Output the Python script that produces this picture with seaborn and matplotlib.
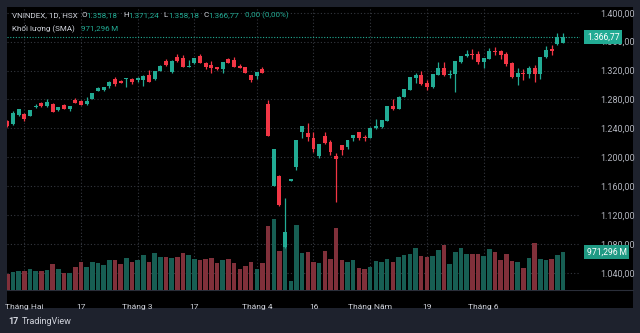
import numpy as np
import pandas as pd
import matplotlib
matplotlib.use("Agg")
import matplotlib.pyplot as plt
import matplotlib.transforms as mtransforms
from matplotlib.patches import Rectangle
import seaborn as sns

# ---------------- data ----------------
bar_idx = list(range(-3, 96))

opens = [
    1250.0, 1245.5, 1258.4,
    1259.8, 1257.0, 1269.0, 1275.0, 1271.3, 1273.1, 1265.3, 1272.2, 1267.2, 1278.7,
    1277.8, 1273.1, 1280.5, 1292.1, 1293.0, 1298.1, 1308.2, 1305.9, 1307.7, 1308.2,
    1306.4, 1306.8, 1313.7, 1307.8, 1319.7, 1332.7, 1318.3, 1338.2, 1336.8, 1324.8,
    1329.9, 1340.5, 1330.8, 1327.6, 1324.8, 1322.0, 1336.3, 1334.0, 1326.2, 1324.4,
    1313.7, 1312.4, 1322.5, 1273.6, 1160.1, 1174.0, 1075.3, 1167.0, 1185.9, 1234.9,
    1233.5, 1226.5, 1202.1, 1229.3, 1221.0, 1202.1, 1216.4, 1214.1, 1227.0, 1234.4,
    1228.4, 1227.0, 1240.0, 1241.4, 1250.6, 1270.9, 1267.2, 1283.8, 1293.0, 1309.2,
    1313.3, 1302.2, 1296.7, 1314.2, 1323.5, 1314.2, 1314.7, 1331.8, 1339.6, 1343.3,
    1342.8, 1332.2, 1335.9, 1347.5, 1346.5, 1342.8, 1330.8, 1310.6, 1317.0, 1315.2,
    1323.5, 1315.2, 1338.2, 1349.3, 1356.7, 1358.18]

highs = [
    1251.0, 1264.0, 1267.0,
    1260.5, 1265.8, 1273.1, 1276.8, 1280.1, 1274.5, 1269.5, 1273.1, 1271.2, 1281.4,
    1278.7, 1283.8, 1289.3, 1296.7, 1297.6, 1305.4, 1311.0, 1306.8, 1309.6, 1310.0,
    1310.6, 1313.3, 1320.2, 1319.3, 1327.2, 1335.9, 1334.1, 1343.3, 1341.4, 1334.0,
    1337.3, 1342.3, 1331.3, 1333.1, 1325.3, 1331.8, 1337.7, 1338.7, 1329.4, 1325.3,
    1314.2, 1318.4, 1324.8, 1278.7, 1211.8, 1175.5, 1143.1, 1169.9, 1224.3, 1243.2,
    1247.3, 1235.3, 1218.3, 1234.4, 1223.8, 1205.3, 1216.9, 1224.3, 1231.2, 1234.9,
    1230.7, 1241.4, 1252.4, 1252.0, 1271.4, 1280.1, 1284.3, 1294.4, 1311.1, 1317.0,
    1318.9, 1306.9, 1315.7, 1331.8, 1331.8, 1320.2, 1333.2, 1340.6, 1348.4, 1349.3,
    1346.5, 1337.4, 1350.7, 1352.1, 1348.4, 1345.2, 1331.8, 1323.9, 1321.6, 1326.2,
    1327.2, 1338.7, 1353.9, 1354.8, 1371.5, 1371.24]

lows = [
    1242.0, 1245.0, 1257.5,
    1250.5, 1256.5, 1267.6, 1269.0, 1269.9, 1262.5, 1263.9, 1266.2, 1264.4, 1275.0,
    1272.2, 1272.6, 1280.0, 1291.6, 1291.6, 1296.2, 1299.0, 1302.2, 1297.1, 1301.3,
    1304.5, 1299.0, 1303.6, 1307.3, 1319.2, 1326.2, 1316.5, 1332.2, 1324.8, 1324.3,
    1329.4, 1329.9, 1321.6, 1317.0, 1321.1, 1317.0, 1329.9, 1324.8, 1322.9, 1316.5,
    1304.5, 1308.2, 1316.5, 1229.3, 1159.6, 1132.5, 1074.0, 1166.5, 1182.3, 1227.0,
    1222.4, 1207.6, 1198.4, 1218.7, 1203.5, 1138.4, 1203.0, 1211.3, 1222.4, 1223.3,
    1222.4, 1226.5, 1239.5, 1241.0, 1250.1, 1265.4, 1266.7, 1283.3, 1292.5, 1302.2,
    1299.9, 1293.0, 1296.2, 1313.7, 1312.8, 1309.6, 1289.8, 1329.9, 1338.2, 1335.9,
    1329.0, 1324.0, 1335.4, 1341.5, 1336.4, 1326.2, 1309.2, 1299.9, 1306.9, 1310.1,
    1304.6, 1307.8, 1337.7, 1341.9, 1355.8, 1358.18]

closes = [
    1243.0, 1260.7, 1266.2,
    1252.9, 1265.3, 1270.8, 1270.4, 1275.9, 1263.0, 1269.0, 1266.7, 1270.8, 1275.5,
    1272.7, 1278.2, 1288.8, 1295.3, 1297.1, 1304.5, 1301.3, 1303.1, 1309.1, 1303.6,
    1310.1, 1312.8, 1304.1, 1318.8, 1326.7, 1327.6, 1333.6, 1333.6, 1325.3, 1326.2,
    1336.8, 1330.4, 1324.8, 1323.9, 1321.6, 1331.3, 1330.8, 1325.3, 1323.4, 1317.0,
    1306.4, 1317.9, 1317.0, 1229.8, 1211.3, 1133.8, 1096.9, 1169.4, 1223.8, 1242.7,
    1227.5, 1210.9, 1217.8, 1219.2, 1207.2, 1197.5, 1210.4, 1223.8, 1230.7, 1226.1,
    1227.0, 1240.9, 1243.2, 1251.5, 1270.9, 1266.3, 1283.8, 1293.9, 1310.6, 1313.8,
    1301.3, 1296.7, 1315.2, 1323.5, 1313.3, 1315.6, 1332.7, 1340.1, 1343.3, 1341.5,
    1331.8, 1336.9, 1347.5, 1345.6, 1341.0, 1329.0, 1310.6, 1317.0, 1315.2, 1323.5,
    1315.2, 1338.2, 1348.4, 1347.5, 1366.77, 1366.77]

volumes_m = [
    398, 456, 474,
    474, 540, 489, 489, 507, 667, 540, 439, 439, 576,
    710, 576, 702, 685, 634, 753, 768, 667, 804, 718,
    753, 888, 718, 938, 837, 829, 812, 829, 938, 888,
    786, 768, 786, 804, 685, 753, 786, 685, 525, 616,
    718, 525, 685, 1623, 1793, 989, 1471, 221, 1641, 931,
    964, 718, 677, 989, 786, 1572, 753, 718, 753, 566,
    533, 583, 735, 702, 786, 702, 837, 888, 921, 1058,
    855, 837, 870, 1007, 1134, 652, 971, 1058, 905, 905,
    921, 870, 1040, 956, 768, 905, 735, 718, 566, 819,
    1184, 786, 768, 786, 888, 971.296]

tick_idx = [0, 10, 20, 30, 41, 51, 61, 71, 81]
tick_labels = ["Tháng Hai", "17", "Tháng 3", "17", "Tháng 4", "16",
               "Tháng Năm", "19", "Tháng 6"]
price_ticks = [1040, 1080, 1120, 1160, 1200, 1240, 1280, 1320, 1360, 1400]

symbol_text = "VNINDEX, 1D, HSX"
volume_title = "Khối lượng (SMA)"

# ---------------- style ----------------
UP = "#22ab94"
DOWN = "#f23645"
VOL_UP = "#175e53"
VOL_DOWN = "#80303a"
FRAME = "#1e222d"
GRID = "#34373f"
TXT = "#d1d4dc"
AXTXT = "#b2b5be"

sns.set_theme(style="dark")
plt.rcParams["font.family"] = ["Roboto", "DejaVu Sans"]


def vn(v, dec=2):
    s = f"{v:,.{dec}f}"
    return s.replace(",", "X").replace(".", ",").replace("X", ".")


W, H = 640, 333
fig = plt.figure(figsize=(6.4, 3.33), dpi=100, facecolor=FRAME)


def fx(x):
    return x / W


def fy(y):
    return 1 - y / H


# black chart panel (plot + price scale + time scale)
fig.patches.append(Rectangle((fx(7), fy(308)), fx(633) - fx(7), fy(7) - fy(308),
                             transform=fig.transFigure, facecolor="black",
                             edgecolor="none", zorder=-5))
# separator above time scale
fig.lines.append(plt.Line2D([fx(7), fx(633)], [fy(290), fy(290)],
                            transform=fig.transFigure, color="#2a2e39", lw=0.8,
                            zorder=-4))

rect = [fx(7), fy(290), (580 - 7) / W, (290 - 7) / H]
axg = fig.add_axes(rect)
axg.set_facecolor("black")
axv = axg.twinx()
axc = axg.twinx()

df = pd.DataFrame({"idx": bar_idx, "open": opens, "high": highs, "low": lows,
                   "close": closes, "vol": volumes_m})
df["dir"] = np.where(df["close"] >= df["open"], "up", "down")

xlim = (-3.05, 98.0)
ylim = (1016.2, 1407.9)

# ---- volume (seaborn) ----
sns.barplot(data=df, x="idx", y="vol", hue="dir", native_scale=True,
            palette={"up": VOL_UP, "down": VOL_DOWN}, width=0.8, dodge=False,
            errorbar=None, saturation=1, legend=False, ax=axv, linewidth=0)
axv.set_ylim(0, 7177)
axv.set_xlabel("")
axv.set_ylabel("")
axv.tick_params(left=False, right=False, labelleft=False, labelright=False)

# ---- candles ----
colors = np.where(df["dir"] == "up", UP, DOWN)
axc.vlines(df["idx"], df["low"], df["high"], colors=colors, lw=0.9, zorder=3)
body_bot = np.minimum(df["open"], df["close"])
body_h = np.maximum(np.abs(df["close"] - df["open"]), 1.4)
axc.bar(df["idx"], body_h, bottom=body_bot, width=0.7, color=colors,
        linewidth=0, zorder=4)

last_close = closes[-1]
axc.axhline(last_close, color=UP, lw=0.8, linestyle=(0, (1, 1.5)), zorder=2)

# ---- grid on base axes ----
axg.set_ylim(*ylim)
axc.set_ylim(*ylim)
axg.set_xlim(*xlim)
axg.set_yticks(price_ticks)
axg.set_xticks(tick_idx)
axg.set_xticklabels(tick_labels)
axg.grid(True, color=GRID, linestyle=(0, (1, 2)), lw=0.8)
axg.tick_params(axis="y", left=False, labelleft=False)
axg.tick_params(axis="x", bottom=False, labelsize=6.0, labelcolor=TXT, pad=4.0)

# price scale labels
axc.set_yticks(price_ticks)
axc.set_yticklabels([vn(p) for p in price_ticks])
axc.tick_params(axis="y", right=False, labelright=True, labelsize=6.5,
                labelcolor=AXTXT, pad=8.3)
axc.grid(False)
axv.grid(False)

for a in (axg, axv, axc):
    for s in a.spines.values():
        s.set_visible(False)

# badges on price scale
axc.annotate(vn(last_close), xy=(1, last_close),
             xycoords=("axes fraction", "data"), xytext=(7.0, 0),
             textcoords="offset pixels", ha="left", va="center",
             fontsize=6.2, color="white", zorder=10, annotation_clip=False,
             bbox=dict(boxstyle="square,pad=0.3", fc=UP, ec="none"))
vtrans = mtransforms.blended_transform_factory(axc.transAxes, axv.transData)
axc.annotate(vn(volumes_m[-1], 3) + "\u2009M", xy=(1, volumes_m[-1]),
             xycoords=vtrans, xytext=(6.5, 0),
             textcoords="offset pixels", ha="left", va="center",
             fontsize=6.2, color="white", zorder=10, annotation_clip=False,
             bbox=dict(boxstyle="square,pad=0.3", fc="#1f9a84", ec="none"))

# ---- header ----
hs = 5.8
fig.text(fx(12), fy(15), symbol_text, color=TXT, fontsize=hs, va="center")
items = [("O", opens[-1]), ("H", highs[-1]), ("L", lows[-1]), ("C", closes[-1])]
xs = [81.5, 123.5, 163.5, 203.5]
for (lab, val), x0 in zip(items, xs):
    fig.text(fx(x0), fy(15), lab, color=TXT, fontsize=hs, va="center")
    fig.text(fx(x0 + 4.8), fy(15), vn(val), color=UP, fontsize=hs, va="center")
chg = closes[-1] - closes[-2]
fig.text(fx(245), fy(15), f"{vn(chg)} ({vn(chg / closes[-2] * 100)}%)",
         color=UP, fontsize=hs, va="center")
fig.text(fx(12), fy(28.5), volume_title, color=TXT, fontsize=hs, va="center")
fig.text(fx(81), fy(28.5), vn(volumes_m[-1], 3) + "\u2009M", color=UP,
         fontsize=hs, va="center")

# ---- footer logo ----
fig.text(fx(8), fy(321), "17", color=TXT, fontsize=6.5, fontweight="bold",
         va="center")
fig.text(fx(22), fy(321), "TradingView", color=TXT, fontsize=6.5, va="center")

fig.savefig("out.png", dpi=100, facecolor=FRAME)
